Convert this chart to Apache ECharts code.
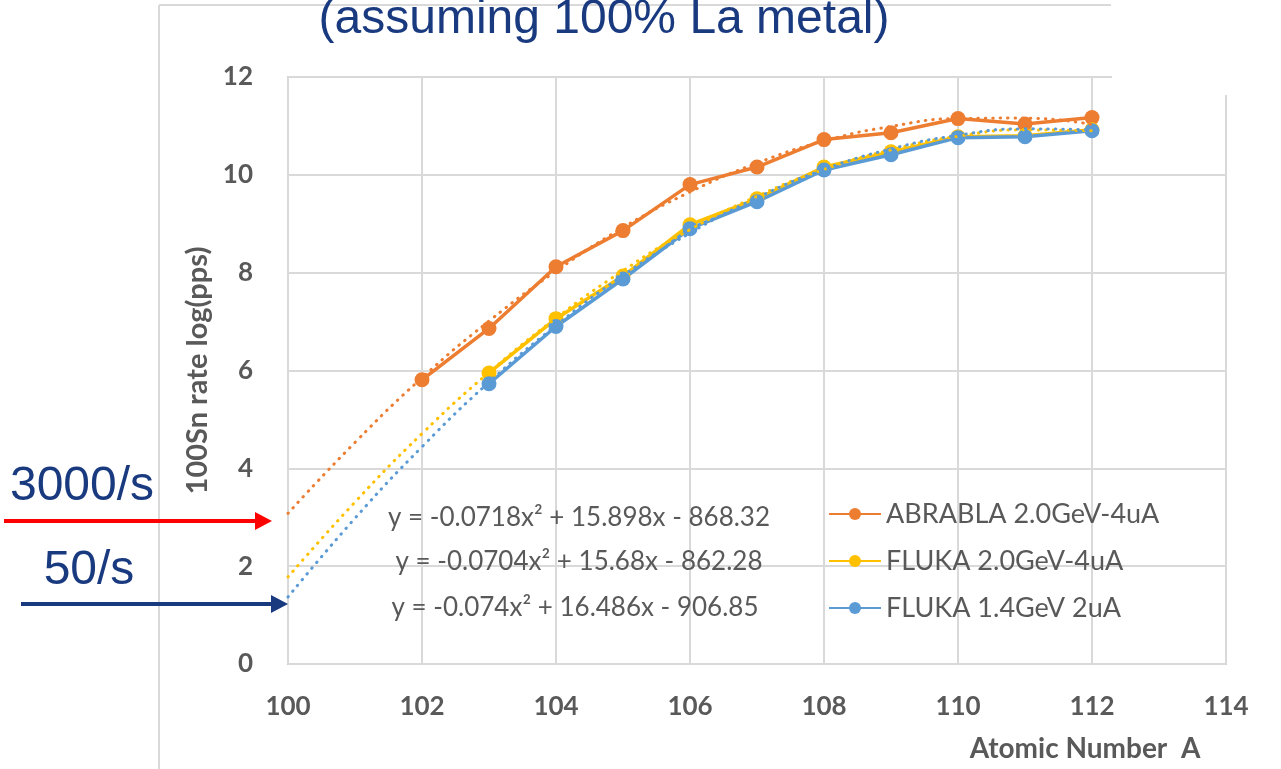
<!DOCTYPE html>
<html>
<head>
<meta charset="utf-8">
<script src="https://cdn.jsdelivr.net/npm/echarts@6/dist/echarts.min.js"></script>
<style>
html,body{margin:0;padding:0;background:#fff;}
#chart{width:1281px;height:769px;}
</style>
</head>
<body>
<div id="chart"></div>
<script>
// ---- Data ----
var xAbrabla = [102, 103, 104, 105, 106, 107, 108, 109, 110, 111, 112];
var yAbrabla = [5.81, 6.86, 8.12, 8.86, 9.80, 10.16, 10.72, 10.86, 11.15, 11.04, 11.17];
var xFluka20 = [103, 104, 105, 106, 107, 108, 109, 110, 111, 112];
var yFluka20 = [5.95, 7.06, 7.93, 8.98, 9.51, 10.16, 10.47, 10.78, 10.80, 10.92];
var xFluka14 = [103, 104, 105, 106, 107, 108, 109, 110, 111, 112];
var yFluka14 = [5.73, 6.90, 7.87, 8.90, 9.45, 10.10, 10.41, 10.76, 10.78, 10.90];

// dotted trend lines, read at integer A from 100 to 112
var xTrend = [100, 101, 102, 103, 104, 105, 106, 107, 108, 109, 110, 111, 112];
var yTrendAbrabla = [3.08, 4.53, 5.85, 7.01, 8.03, 8.92, 9.65, 10.24, 10.69, 10.99, 11.15, 11.16, 11.03];
var yTrendFluka20 = [1.78, 3.31, 4.71, 5.96, 7.07, 8.04, 8.88, 9.56, 10.11, 10.51, 10.79, 10.92, 10.90];
var yTrendFluka14 = [1.37, 2.98, 4.44, 5.76, 6.92, 7.94, 8.81, 9.53, 10.11, 10.53, 10.81, 10.94, 10.92];

var seriesNames = ['ABRABLA 2.0GeV-4uA', 'FLUKA 2.0GeV-4uA', 'FLUKA 1.4GeV 2uA'];
var equations = ['y = -0.0718x² + 15.898x - 868.32', 'y = -0.0704x² + 15.68x - 862.28', 'y = -0.074x² + 16.486x - 906.85'];
var titleText = '(assuming 100% La metal)';
var xAxisName = 'Atomic Number  A';
var yAxisName = '100Sn rate log(pps)';
var arrowLabels = ['3000/s', '50/s'];

var colors = ['#ED7D31', '#FFC000', '#5B9BD5'];

function zip(xs, ys){ return xs.map(function(x,i){ return [x, ys[i]]; }); }

var chart = echarts.init(document.getElementById('chart'));
var font = 'Lato, "Open Sans", sans-serif';
var grey = '#595959';
var navy = '#1A3A80';
var arial = '"Liberation Sans", Arial, sans-serif';

var mainSeries = [[xAbrabla,yAbrabla],[xFluka20,yFluka20],[xFluka14,yFluka14]].map(function(d,i){
  return {
    name: seriesNames[i], type: 'line', data: zip(d[0], d[1]),
    symbol: 'circle', symbolSize: 15,
    itemStyle: {color: colors[i]},
    lineStyle: {color: colors[i], width: 3.5},
    z: 3, animation: false
  };
});
var trendSeries = [yTrendAbrabla, yTrendFluka20, yTrendFluka14].map(function(ys,i){
  return {
    name: 'trend' + i, type: 'line', data: zip(xTrend, ys),
    smooth: true, showSymbol: false, symbol: 'none',
    lineStyle: {color: colors[i], width: 3, type: [0.5, 7], cap: 'round'},
    z: 4, silent: true, animation: false
  };
});

var graphics = [
  // slide frame lines
  {type:'line', shape:{x1:159,y1:5,x2:1111,y2:5}, style:{stroke:'#d9d9d9', lineWidth:2}, z:1},
  {type:'line', shape:{x1:159,y1:5,x2:159,y2:769}, style:{stroke:'#d9d9d9', lineWidth:2}, z:1},
  // white cover box at the top right
  {type:'rect', shape:{x:1112,y:0,width:169,height:95}, style:{fill:'#fff'}, z:50},
  // title
  {type:'text', x:604, y:20, style:{text:titleText, font:'48px ' + arial, fill:navy, align:'center', verticalAlign:'middle'}, z:60},
  // annotations
  {type:'text', x:82, y:487, style:{text:arrowLabels[0], font:'48px ' + arial, fill:navy, align:'center', verticalAlign:'middle'}, z:60},
  {type:'text', x:89, y:571, style:{text:arrowLabels[1], font:'48px ' + arial, fill:navy, align:'center', verticalAlign:'middle'}, z:60},
  {type:'line', shape:{x1:4,y1:521,x2:258,y2:521}, style:{stroke:'#FF0000', lineWidth:4}, z:60},
  {type:'polygon', shape:{points:[[255,512],[272,521],[255,530]]}, style:{fill:'#FF0000'}, z:60},
  {type:'line', shape:{x1:21,y1:604,x2:274,y2:604}, style:{stroke:navy, lineWidth:4}, z:60},
  {type:'polygon', shape:{points:[[271,595],[288,604],[271,613]]}, style:{fill:navy}, z:60},
  // x axis name
  {type:'text', x:1085, y:749, style:{text:xAxisName, font:'bold 28px ' + font, fill:grey, align:'center', verticalAlign:'middle'}, z:60}
];
var eqPos = [[579,518],[579,562],[575,608]];
equations.forEach(function(t,i){
  graphics.push({type:'text', x:eqPos[i][0], y:eqPos[i][1], style:{text:t, font:'26px ' + font, fill:grey, align:'center', verticalAlign:'middle'}, z:60});
});

chart.setOption({
  animation: false,
  grid: {left: 288, right: 55, top: 77, bottom: 105, show: true, borderColor: '#d0d0d0', borderWidth: 2},
  xAxis: {
    type: 'value', min: 100, max: 114, interval: 2,
    axisLine: {show: false}, axisTick: {show: false},
    splitLine: {show: true, lineStyle: {color: '#d9d9d9', width: 2}},
    axisLabel: {color: grey, fontFamily: font, fontWeight: 'bold', fontSize: 26, margin: 30}
  },
  yAxis: {
    type: 'value', min: 0, max: 12, interval: 2,
    name: yAxisName, nameLocation: 'middle', nameGap: 76, nameRotate: 90,
    nameTextStyle: {color: grey, fontFamily: font, fontWeight: 'bold', fontSize: 29},
    axisLine: {show: false}, axisTick: {show: false},
    splitLine: {show: true, lineStyle: {color: '#d9d9d9', width: 2}},
    axisLabel: {color: grey, fontFamily: font, fontWeight: 'bold', fontSize: 26, margin: 35}
  },
  legend: {
    data: seriesNames, orient: 'vertical', left: 823, top: 494,
    itemWidth: 52, itemHeight: 15, itemGap: 17,
    textStyle: {color: grey, fontFamily: font, fontSize: 27, lineHeight: 30},
    selectedMode: false
  },
  series: mainSeries.concat(trendSeries),
  graphic: graphics
});
</script>
</body>
</html>
